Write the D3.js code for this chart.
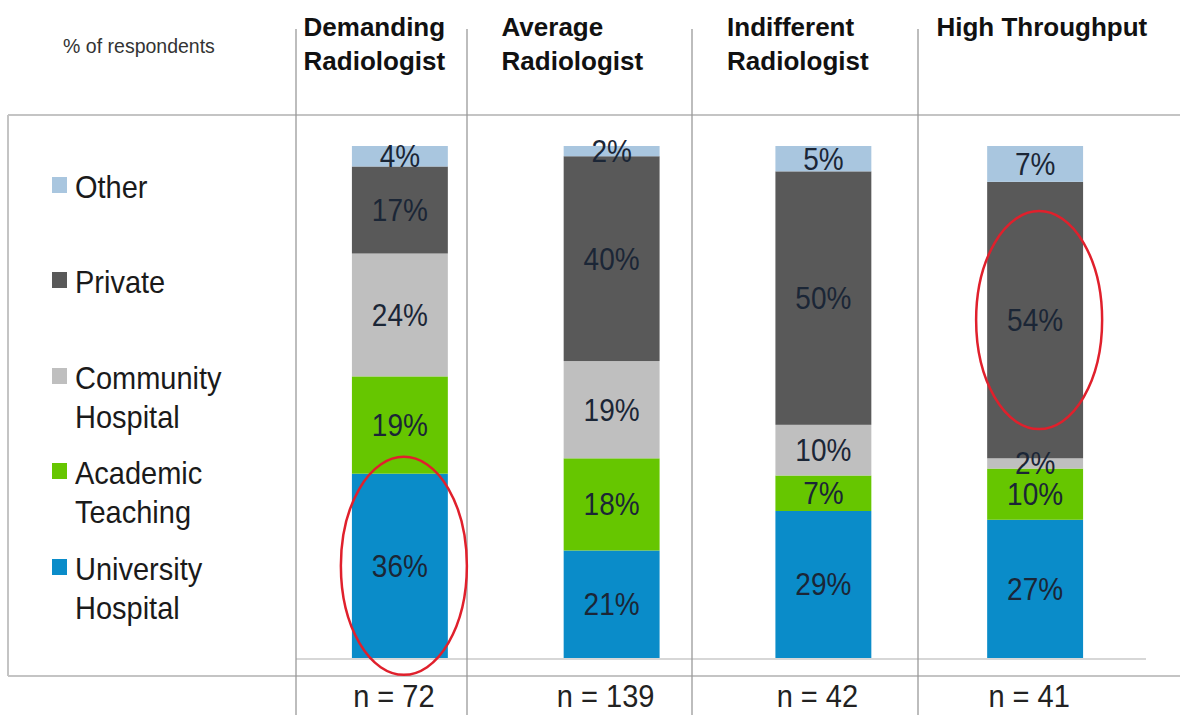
<!DOCTYPE html>
<html>
<head>
<meta charset="utf-8">
<script src="https://cdn.jsdelivr.net/npm/d3@7"></script>
<style>
  html, body { margin: 0; padding: 0; background: #fff; }
  svg { display: block; font-family: "Liberation Sans", Arial, sans-serif; }
</style>
</head>
<body>
<svg id="chart" width="1180" height="715"></svg>
<script>
// Respondent segments per radiologist profile (% of respondents)
const profiles = ["Demanding Radiologist", "Average Radiologist", "Indifferent Radiologist", "High Throughput"];
const headerLines = [["Demanding", "Radiologist"], ["Average", "Radiologist"], ["Indifferent", "Radiologist"], ["High Throughput"]];
const sampleSizes = [72, 139, 42, 41];

const segments = ["University Hospital", "Academic Teaching", "Community Hospital", "Private", "Other"];
const legendLines = [["University", "Hospital"], ["Academic", "Teaching"], ["Community", "Hospital"], ["Private"], ["Other"]];

const universityHospital = [36, 21, 29, 27];
const academicTeaching   = [19, 18, 7, 10];
const communityHospital  = [24, 19, 10, 2];
const privatePractice    = [17, 40, 50, 54];
const other              = [4, 2, 5, 7];

// Segments circled for emphasis: [profile, segment]
const highlights = [["Demanding Radiologist", "University Hospital"], ["High Throughput", "Private"]];

const colors = ["#0a8cc9", "#66c600", "#bfbfbf", "#595959", "#a9c6df"];

const seriesValues = [universityHospital, academicTeaching, communityHospital, privatePractice, other];
const rows = profiles.map((p, i) => {
  const r = { profile: p };
  segments.forEach((s, k) => { r[s] = seriesValues[k][i]; });
  return r;
});

const svg = d3.select("#chart");
const W = 1180, H = 715;
const textStretch = 1.1;

// Frame geometry
const frameLeft = 8, frameTop = 115, frameBottom = 676;
const dividers = [296, 467, 692, 918];
const baselineY = 659;

const x = d3.scaleBand().domain(profiles).range([294, 1141]).paddingInner(0.547).paddingOuter(0.2735);
const y = d3.scaleLinear().domain([0, 1]).range([baselineY - 1, 146]);
const color = d3.scaleOrdinal().domain(segments).range(colors);

const stack = d3.stack().keys(segments).offset(d3.stackOffsetExpand);
const stacked = stack(rows);

// Frame lines
const lines = svg.append("g").attr("class", "frame");
lines.append("line").attr("x1", frameLeft).attr("x2", W).attr("y1", frameTop).attr("y2", frameTop)
  .attr("stroke", "#c4c4c4").attr("stroke-width", 2);
lines.append("line").attr("x1", frameLeft).attr("x2", frameLeft).attr("y1", frameTop).attr("y2", frameBottom)
  .attr("stroke", "#c4c4c4").attr("stroke-width", 2);
lines.append("line").attr("x1", frameLeft).attr("x2", W).attr("y1", frameBottom).attr("y2", frameBottom)
  .attr("stroke", "#c4c4c4").attr("stroke-width", 2);
lines.append("line").attr("x1", dividers[0]).attr("x2", 1146).attr("y1", baselineY).attr("y2", baselineY)
  .attr("stroke", "#b0b0b0").attr("stroke-width", 1.2);
lines.selectAll("line.div").data(dividers).join("line").attr("class", "div")
  .attr("x1", d => d).attr("x2", d => d).attr("y1", 29).attr("y2", H)
  .attr("stroke", "#9a9a9a").attr("stroke-width", 1.3);

// Stacked bars
const layer = svg.append("g").selectAll("g").data(stacked).join("g")
  .attr("fill", d => color(d.key));
layer.selectAll("rect").data(d => d).join("rect")
  .attr("x", d => x(d.data.profile))
  .attr("width", x.bandwidth())
  .attr("y", d => y(d[1]))
  .attr("height", d => y(d[0]) - y(d[1]));

// Value labels, centred in each segment
svg.append("g").selectAll("g").data(stacked).join("g")
  .selectAll("text").data(d => d.map(v => ({ v, key: d.key }))).join("text")
  .attr("transform", d => {
    const cx = x(d.v.data.profile) + x.bandwidth() / 2;
    const cy = (y(d.v[0]) + y(d.v[1])) / 2;
    return `translate(${cx},${cy}) scale(1,${textStretch})`;
  })
  .attr("text-anchor", "middle")
  .attr("dominant-baseline", "central")
  .attr("font-size", 28)
  .attr("fill", "#1b2636")
  .text(d => d.v.data[d.key] + "%");

// Highlight ellipses
svg.append("g").selectAll("ellipse").data(highlights).join("ellipse")
  .attr("cx", d => x(d[0]) + x.bandwidth() / 2 + 4)
  .attr("cy", d => {
    const s = stacked.find(l => l.key === d[1]);
    const v = s[profiles.indexOf(d[0])];
    return (y(v[0]) + y(v[1])) / 2;
  })
  .attr("rx", 63)
  .attr("ry", 109)
  .attr("fill", "none")
  .attr("stroke", "#e0202c")
  .attr("stroke-width", 2.5);

// Column headers: block centred in each column, lines left-aligned
const colEdges = dividers.concat([W]);
const headers = svg.append("g");
profiles.forEach((p, i) => {
  const g = headers.append("g");
  const t = g.append("text").attr("font-size", 26).attr("font-weight", "bold").attr("fill", "#111");
  headerLines[i].forEach((ln, j) => {
    t.append("tspan").attr("x", 0).attr("y", 36 + j * 34).text(ln);
  });
  const bw = t.node().getBBox().width;
  const cx = (colEdges[i] + colEdges[i + 1]) / 2;
  g.attr("transform", `translate(${cx - bw / 2 - 7},0)`);
});

// Axis title
svg.append("text").attr("x", 139).attr("y", 53).attr("text-anchor", "middle")
  .attr("font-size", 19.5).attr("fill", "#333").text("% of respondents");

// Sample sizes
svg.append("g").selectAll("text").data(profiles).join("text")
  .attr("transform", d => `translate(${x(d) + x.bandwidth() / 2 - 6},707) scale(1,1.05)`)
  .attr("text-anchor", "middle")
  .attr("font-size", 29)
  .attr("fill", "#222")
  .text((d, i) => "n = " + sampleSizes[i]);

// Legend, listed top-down from the top of the stack
const legendOrder = segments.slice().reverse();
const legendBaselines = [198, 293, 389, 484, 580];
const legend = svg.append("g");
legendOrder.forEach((s, i) => {
  const k = segments.indexOf(s);
  const g = legend.append("g");
  g.append("rect").attr("x", 52).attr("y", legendBaselines[i] - 21).attr("width", 15).attr("height", 16)
    .attr("fill", color(s));
  const t = g.append("text").attr("font-size", 29).attr("fill", "#1a1a1a")
    .attr("transform", `translate(75,${legendBaselines[i]}) scale(1,${textStretch})`);
  legendLines[k].forEach((ln, j) => {
    t.append("tspan").attr("x", 0).attr("y", j * 39 / textStretch).text(ln);
  });
});
</script>
</body>
</html>
